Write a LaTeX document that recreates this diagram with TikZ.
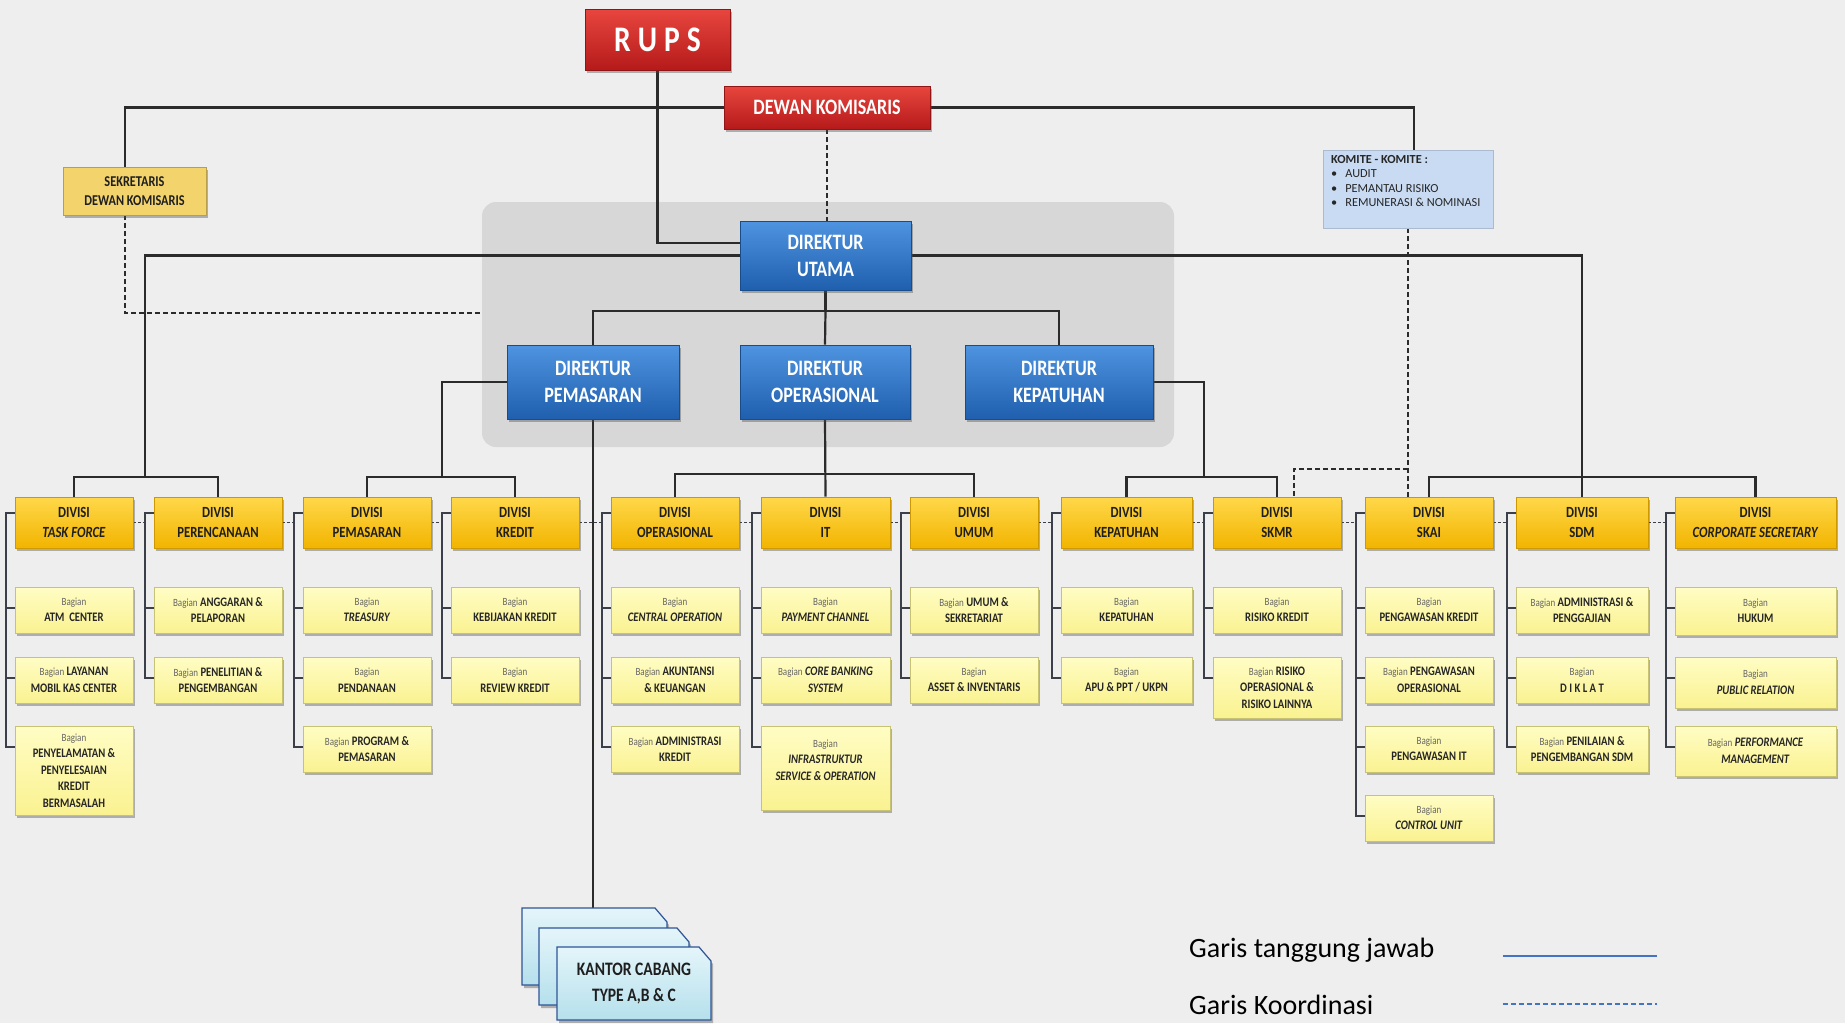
\documentclass[tikz,border=0pt]{standalone}
\usepackage{fontspec}
\setmainfont{Carlito}
\newfontfamily\cf[FakeStretch=0.82]{Carlito}
\usetikzlibrary{calc,shadows}
\pgfdeclarelayer{bg}
\pgfdeclarelayer{lines}
\pgfsetlayers{bg,lines,main}
\definecolor{bgc}{HTML}{EEEEEE}
\definecolor{linec}{HTML}{2B2B2B}
\definecolor{brkc}{HTML}{3A3F4A}
\definecolor{divtop}{HTML}{FFD84A}
\definecolor{divbot}{HTML}{F2B400}
\definecolor{bagtop}{HTML}{FFFDC4}
\definecolor{bagbot}{HTML}{FAF291}
\definecolor{blutop}{HTML}{4F94E0}
\definecolor{blubot}{HTML}{1F5FAE}
\definecolor{redtop}{HTML}{E8463E}
\definecolor{redbot}{HTML}{B51A1A}
\definecolor{sekc}{HTML}{F3D46C}
\definecolor{komc}{HTML}{C9DBF2}
\definecolor{kctop}{HTML}{E4F5FA}
\definecolor{kcbot}{HTML}{B5E0EC}
\definecolor{kcedge}{HTML}{2F5597}
\definecolor{legc}{HTML}{4472C4}
\definecolor{panelc}{HTML}{D4D4D4}
\newcommand\bgn{{\mdseries\color{black!60}\fontsize{11}{16.5}\selectfont Bagian}}
\tikzset{
  shd/.style={drop shadow={opacity=0.4, shadow xshift=2pt, shadow yshift=-3pt, fill=black!70}},
  base/.style={rectangle, inner sep=1pt, align=center},
  divbox/.style={base, shd, top color=divtop, bottom color=divbot, draw=divbot!85!black, line width=0.6pt,
     minimum height=51pt, text=black!88, font=\cf\bfseries\fontsize{15.5}{19.5}\selectfont},
  bagbox/.style={base, shd, top color=bagtop, bottom color=bagbot, draw=bagbot!80!black, line width=0.5pt,
     text=black!85, font=\cf\bfseries\fontsize{13}{16.5}\selectfont},
  dirbox/.style={base, shd, top color=blutop, bottom color=blubot, draw=blubot!80!black, line width=0.6pt,
     text=white, font=\cf\bfseries\fontsize{22}{27}\selectfont},
  redbox/.style={base, shd, top color=redtop, bottom color=redbot, draw=redbot!80!black, line width=0.6pt,
     text=white, font=\cf\bfseries\fontsize{22}{27}\selectfont},
  mainline/.style={draw=linec, line width=2.2pt},
  dline/.style={draw=linec, line width=2pt, dash pattern=on 5pt off 3pt},
  brk/.style={draw=brkc, line width=1.6pt},
  coord/.style={draw=brkc, line width=1.4pt, dash pattern=on 3pt off 2pt},
  kcshape/.style={top color=kctop, bottom color=kcbot, draw=kcedge, line width=1.2pt, shd}
}
\newcommand\dv[4]{\node[divbox, minimum width=#3pt] (#1) at (#2,522.5) {#4};}
\newcommand\bgx[6]{\node[bagbox, minimum width=#4pt, minimum height=#5pt] (#1) at (#2,#3) {#6};}
\newcommand\brkt[3]{%
  \draw[brk] ($(#1.north west)+(0,16)$) -- ++(-9,0) |- ($(#3.north west)+(0,21)$);
  \foreach \q in {#2}{\draw[brk] ($(\q.north west)+(0,21)$) -- ++(-9,0);}
}
\begin{document}
\begin{tikzpicture}[x=1pt,y=-1pt]
\useasboundingbox (0,0) rectangle (1845,1023);
\begin{pgfonlayer}{bg}
\fill[bgc] (0,0) rectangle (1845,1023);
\fill[panelc, rounded corners=14pt, opacity=0.85] (482,202) rectangle (1174,447);
\end{pgfonlayer}

% ---------- top nodes ----------
\node[redbox, minimum width=145pt, minimum height=61pt, font=\cf\bfseries\fontsize{36}{40}\selectfont] (RUPS) at (657.5,39.5) {R\hspace{7pt}U\hspace{7pt}P\hspace{7pt}S};
\node[redbox, minimum width=206pt, minimum height=43pt] (DK) at (827,107.5) {DEWAN KOMISARIS};
\node[base, shd, fill=sekc, draw=sekc!75!black, line width=0.6pt, minimum width=143pt, minimum height=48pt,
      text=black!88, font=\cf\bfseries\fontsize{15}{19}\selectfont] (Sek) at (134.5,191) {SEKRETARIS\\DEWAN KOMISARIS};
\node[base, fill=komc, draw=komc!85!black, line width=0.4pt, minimum width=170pt, minimum height=78pt] (Kom) at (1408,189) {};
\node[anchor=north west, align=left, inner sep=0pt, text=black!85, font=\fontsize{12.3}{14.5}\selectfont] (komtxt) at (1331,155)
  {\textbf{KOMITE - KOMITE :}\\ \textbullet\hspace{8pt}AUDIT\\ \textbullet\hspace{8pt}PEMANTAU RISIKO\\ \textbullet\hspace{8pt}REMUNERASI \& NOMINASI};

\node[dirbox, minimum width=171pt, minimum height=69pt] (Dirut) at (825.5,255.5) {DIREKTUR\\UTAMA};
\node[dirbox, minimum width=172pt, minimum height=74pt] (DP) at (593,382) {DIREKTUR\\PEMASARAN};
\node[dirbox, minimum width=170pt, minimum height=74pt] (DO) at (825,382) {DIREKTUR\\OPERASIONAL};
\node[dirbox, minimum width=188pt, minimum height=74pt] (DKep) at (1059,382) {DIREKTUR\\KEPATUHAN};

% ---------- divisions ----------
\dv{TF}{74}{118}{DIVISI\\\textit{TASK FORCE}}
\dv{PR}{218}{128}{DIVISI\\PERENCANAAN}
\dv{PM}{367}{128}{DIVISI\\PEMASARAN}
\dv{KR}{515}{128}{DIVISI\\KREDIT}
\dv{OP}{675}{128}{DIVISI\\OPERASIONAL}
\dv{IT}{825.5}{129}{DIVISI\\IT}
\dv{UM}{974}{128}{DIVISI\\UMUM}
\dv{KP}{1126.5}{131}{DIVISI\\KEPATUHAN}
\dv{SK}{1277}{128}{DIVISI\\SKMR}
\dv{SA}{1429}{128}{DIVISI\\SKAI}
\dv{SD}{1582}{132}{DIVISI\\SDM}
\dv{CS}{1755.5}{161}{DIVISI\\\textit{CORPORATE SECRETARY}}

% ---------- bagian ----------
\bgx{TF1}{74}{610}{118}{46}{\bgn\\ATM\ \ CENTER}
\bgx{TF2}{74}{680}{118}{46}{\bgn{} LAYANAN\\MOBIL KAS CENTER}
\bgx{TF3}{74}{770.5}{118}{89}{\bgn\\PENYELAMATAN \&\\PENYELESAIAN\\KREDIT\\BERMASALAH}
\bgx{PR1}{218}{610}{128}{46}{\bgn{} ANGGARAN \&\\PELAPORAN}
\bgx{PR2}{218}{680}{128}{46}{\bgn{} PENELITIAN \&\\PENGEMBANGAN}
\bgx{PM1}{367}{610}{128}{46}{\bgn\\\textit{TREASURY}}
\bgx{PM2}{367}{680}{128}{46}{\bgn\\PENDANAAN}
\bgx{PM3}{367}{749}{128}{46}{\bgn{} PROGRAM \&\\PEMASARAN}
\bgx{KR1}{515}{610}{128}{46}{\bgn\\KEBIJAKAN KREDIT}
\bgx{KR2}{515}{680}{128}{46}{\bgn\\REVIEW KREDIT}
\bgx{OP1}{675}{610}{128}{46}{\bgn\\\textit{CENTRAL OPERATION}}
\bgx{OP2}{675}{680}{128}{46}{\bgn{} AKUNTANSI\\\& KEUANGAN}
\bgx{OP3}{675}{749}{128}{46}{\bgn{} ADMINISTRASI\\KREDIT}
\bgx{IT1}{825.5}{610}{129}{46}{\bgn\\\textit{PAYMENT CHANNEL}}
\bgx{IT2}{825.5}{680}{129}{46}{\bgn{} \textit{CORE BANKING}\\\textit{SYSTEM}}
\bgx{IT3}{825.5}{768}{129}{84}{\bgn\\\textit{INFRASTRUKTUR}\\\textit{SERVICE \& OPERATION}\\\mbox{}}
\bgx{UM1}{974}{610}{128}{46}{\bgn{} UMUM \&\\SEKRETARIAT}
\bgx{UM2}{974}{680}{128}{46}{\bgn\\ASSET \& INVENTARIS}
\bgx{KP1}{1126.5}{610}{131}{46}{\bgn\\KEPATUHAN}
\bgx{KP2}{1126.5}{680}{131}{46}{\bgn\\APU \& PPT / UKPN}
\bgx{SK1}{1277}{610}{128}{46}{\bgn\\RISIKO KREDIT}
\bgx{SK2}{1277}{687.5}{128}{61}{\bgn{} RISIKO\\OPERASIONAL \&\\RISIKO LAINNYA}
\bgx{SA1}{1429}{610}{128}{46}{\bgn\\PENGAWASAN KREDIT}
\bgx{SA2}{1429}{680}{128}{46}{\bgn{} PENGAWASAN\\OPERASIONAL}
\bgx{SA3}{1429}{749}{128}{46}{\bgn\\PENGAWASAN IT}
\bgx{SA4}{1429}{818}{128}{46}{\bgn\\\textit{CONTROL UNIT}}
\bgx{SD1}{1582}{610}{132}{46}{\bgn{} ADMINISTRASI \&\\PENGGAJIAN}
\bgx{SD2}{1582}{680}{132}{46}{\bgn\\D I K L A T}
\bgx{SD3}{1582}{749}{132}{46}{\bgn{} PENILAIAN \&\\PENGEMBANGAN SDM}
\bgx{CS1}{1755.5}{611}{161}{48}{\bgn\\HUKUM}
\bgx{CS2}{1755.5}{682.5}{161}{51}{\bgn\\\textit{PUBLIC RELATION}}
\bgx{CS3}{1755.5}{751}{161}{50}{\bgn{} \textit{PERFORMANCE}\\\textit{MANAGEMENT}}

% ---------- kantor cabang ----------
\path[kcshape] (522,908) -- (655,908) -- (667,922) -- (667,985) -- (522,985) -- cycle;
\path[kcshape] (539,928) -- (677,928) -- (689,942) -- (689,1005) -- (539,1005) -- cycle;
\path[kcshape] (557,947) -- (699,947) -- (711,961) -- (711,1020) -- (557,1020) -- cycle;
\node[base, text=black!88, font=\cf\bfseries\fontsize{19}{26}\selectfont] (KC) at (634,983.5) {KANTOR CABANG\\TYPE A,B \& C};
\coordinate (kctop) at (593,908);

% ---------- legend ----------
\node[anchor=west, inner sep=0pt, font=\fontsize{28}{30}\selectfont, text=black] (leg1) at (1189,950) {Garis tanggung jawab};
\node[anchor=west, inner sep=0pt, font=\fontsize{28}{30}\selectfont, text=black] (leg2) at (1189,1005) {Garis Koordinasi};
\draw[legc, line width=2.5pt] (1503,956) -- (1657,956);
\draw[legc, line width=2.5pt, dash pattern=on 5pt off 3pt] (1503,1004) -- (1657,1004);

% ---------- connectors ----------
\begin{pgfonlayer}{lines}
% RUPS -> Direktur Utama
\draw[mainline] (RUPS.south) |- ($(Dirut.north west)+(0,22)$);
% Dewan Komisaris -> Sekretaris, Komite
\coordinate (sektop) at ($(Sek.north west)+(62,0)$);
\coordinate (komtop) at ($(Kom.north)+(6,0)$);
\draw[mainline] (DK.west) -| (sektop);
\draw[mainline] (DK.east) -| (komtop);
% Sekretaris coordination
\draw[dline] ($(Sek.south west)+(62,0)$) |- (482,313);
% DK -> Dirut dashed
\draw[dline] (DK.south) -- (DK.south |- Dirut.north);
% Dirut -> TF, PR
\coordinate (j1) at (145,477);
\draw[mainline] (Dirut.west) -| (j1);
\draw[mainline] (TF.north) |- (j1) -| (PR.north);
% Dirut -> directors
\coordinate (j2) at (825.5,311);
\draw[mainline] (Dirut.south) -- (j2);
\draw[mainline] (DP.north) |- (j2) -| (DKep.north);
\draw[mainline] (j2) -- (DO.north);
% DP -> PM, KR
\coordinate (j3) at (442,477);
\draw[mainline] (DP.west) -| (j3);
\draw[mainline] (PM.north) |- (j3) -| (KR.north);
% DP -> Kantor cabang
\draw[mainline] (DP.south) -- (kctop);
% DO -> OP, IT, UM
\coordinate (j4) at (825,474);
\draw[mainline] (DO.south) -- (IT.north);
\draw[mainline] (OP.north) |- (j4) -| (UM.north);
% DKep -> KP, SK
\coordinate (j5) at (1204,477);
\draw[mainline] (DKep.east) -| (j5);
\draw[mainline] (KP.north) |- (j5) -| (SK.north);
% Dirut -> SA, SD, CS
\coordinate (j6) at (1582,477);
\draw[mainline] (Dirut.east) -| (j6);
\draw[mainline] (SA.north) |- (j6) -| (CS.north);
\draw[mainline] (j6) -- (SD.north);
% Komite -> SKAI, SKMR (coordination)
\coordinate (j7) at (1408,469);
\draw[dline] (Kom.south) -- (Kom.south |- SA.north);
\draw[dline] (j7) -| ($(SK.north)+(17,0)$);
% brackets
\brkt{TF}{TF1,TF2}{TF3}
\brkt{PR}{PR1}{PR2}
\brkt{PM}{PM1,PM2}{PM3}
\brkt{KR}{KR1}{KR2}
\brkt{OP}{OP1,OP2}{OP3}
\brkt{IT}{IT1,IT2}{IT3}
\brkt{UM}{UM1}{UM2}
\brkt{KP}{KP1}{KP2}
\brkt{SK}{SK1}{SK2}
\brkt{SA}{SA1,SA2,SA3}{SA4}
\brkt{SD}{SD1,SD2}{SD3}
\brkt{CS}{CS1,CS2}{CS3}
% coordination between divisions
\foreach \a/\b in {TF/PR,PR/PM,PM/KR,KR/OP,OP/IT,IT/UM,UM/KP,KP/SK,SK/SA,SA/SD,SD/CS}
  \draw[coord] (\a.east) -- ($(\b.west)+(-9,0)$);
\end{pgfonlayer}
\end{tikzpicture}
\end{document}
